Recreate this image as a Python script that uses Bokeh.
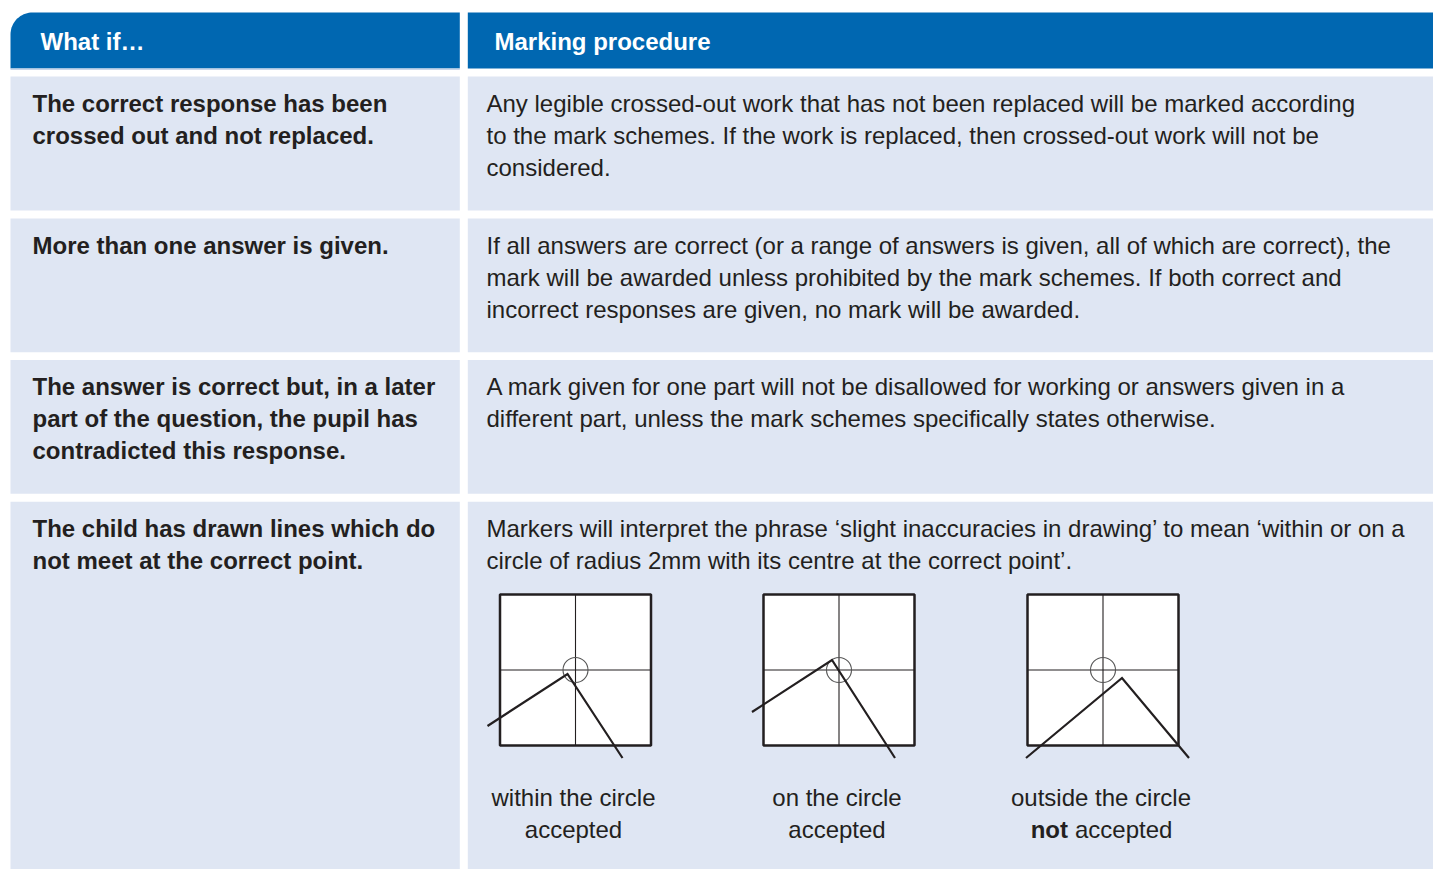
import numpy as np
from bokeh.plotting import figure
from bokeh.models import Range1d
from bokeh.core.properties import value
from bokeh.embed import file_html
from bokeh.resources import INLINE

# ---------------- data ----------------
headers = ["What if…", "Marking procedure"]

what_if = [
    ["The correct response has been", "crossed out and not replaced."],
    ["More than one answer is given."],
    ["The answer is correct but, in a later", "part of the question, the pupil has",
     "contradicted this response."],
    ["The child has drawn lines which do", "not meet at the correct point."],
]

procedure = [
    ["Any legible crossed-out work that has not been replaced will be marked according",
     "to the mark schemes. If the work is replaced, then crossed-out work will not be",
     "considered."],
    ["If all answers are correct (or a range of answers is given, all of which are correct), the",
     "mark will be awarded unless prohibited by the mark schemes. If both correct and",
     "incorrect responses are given, no mark will be awarded."],
    ["A mark given for one part will not be disallowed for working or answers given in a",
     "different part, unless the mark schemes specifically states otherwise."],
    ["Markers will interpret the phrase ‘slight inaccuracies in drawing’ to mean ‘within or on a",
     "circle of radius 2mm with its centre at the correct point’."],
]

# diagram cases: caption lines, drawn chevron (relative to box centre, px)
case_line1 = ["within the circle", "on the circle", "outside the circle"]
case_line2_bold = ["", "", "not"]
case_line2 = ["accepted", "accepted", "accepted"]
chevron_x = [[-88, -8, 47], [-87, -7, 56], [-77, 19, 86]]
chevron_y = [[56, 4, 88], [42, -10, 88], [88, 8, 88]]

# ---------------- layout ----------------
W, H = 1433, 869
p = figure(width=W, height=H, x_range=Range1d(0, W), y_range=Range1d(H, 0),
           output_backend="svg", toolbar_location=None, x_axis_type=None, y_axis_type=None,
           min_border=0, outline_line_color=None, background_fill_color="white",
           border_fill_color="white")
p.grid.visible = False

BLUE = "#0067B1"
ROWBG = "#DFE6F3"
TXT = "#231F20"
FONT = value("Liberation Sans")
FS = "24px"
FSB = "24px"
DY = -8.5  # baseline correction

colL = (10, 459.3)
colR = (467.3, 1445)
row_tops = [76, 218, 359.5, 501.3]
row_bots = [210, 351.7, 493.3, 880]

# header: left with rounded top-left corner
r = 22
t = np.linspace(np.pi, 1.5 * np.pi, 20)
hx = list(colL[0] + r + r * np.cos(t)) + [colL[1], colL[1], colL[0]]
hy = list(12 + r + r * np.sin(t)) + [12, 68, 68]
p.patch(hx, hy, fill_color=BLUE, line_color=None)
p.quad(left=[colR[0]], right=[colR[1]], top=[12], bottom=[68], fill_color=BLUE, line_color=None)
# thin light rule below header
p.quad(left=[colL[0], colR[0]], right=[colL[1], colR[1]], top=[68], bottom=[69.6],
       fill_color="#C8D5EA", line_color=None)

p.text(x=[40, 494], y=[49 + DY, 49 + DY], text=headers, text_color="white", text_font=FONT,
       text_font_size=FSB, text_font_style="bold", text_baseline="alphabetic")

# rows
for i in range(4):
    p.quad(left=[colL[0], colR[0]], right=[colL[1], colR[1]], top=[row_tops[i]] * 2,
           bottom=[row_bots[i]] * 2, fill_color=ROWBG, line_color=None)
    base = row_tops[i] + 35.3 + DY
    lx, ly, lt = [], [], []
    for k, s in enumerate(what_if[i]):
        lx.append(32); ly.append(base + 32 * k); lt.append(s)
    p.text(x=lx, y=ly, text=lt, text_color=TXT, text_font=FONT, text_font_size=FSB,
           text_font_style="bold", text_baseline="alphabetic")
    rx, ry, rt = [], [], []
    for k, s in enumerate(procedure[i]):
        rx.append(486); ry.append(base + 32 * k); rt.append(s)
    p.text(x=rx, y=ry, text=rt, text_color=TXT, text_font=FONT, text_font_size=FS,
           text_baseline="alphabetic")

# diagrams
centres_x = [575, 838.5, 1102.5]
cy = 669.5
half = 75.5
for j, cx in enumerate(centres_x):
    p.quad(left=[cx - half], right=[cx + half], top=[cy - half], bottom=[cy + half],
           fill_color="white", line_color=TXT, line_width=2.5)
    p.segment(x0=[cx, cx - half], y0=[cy - half, cy], x1=[cx, cx + half], y1=[cy + half, cy],
              line_color=TXT, line_width=1.1)
    p.scatter(x=[cx], y=[cy], size=25, marker="circle", fill_color=None,
              line_color="#555555", line_width=1.1)
    p.line(x=[cx + v for v in chevron_x[j]], y=[cy + v for v in chevron_y[j]],
           line_color=TXT, line_width=2.2, line_join="miter")
    p.text(x=[cx - 2], y=[805.5 + DY], text=[case_line1[j]], text_color=TXT, text_font=FONT,
           text_font_size=FS, text_align="center", text_baseline="alphabetic")
    if case_line2_bold[j]:
        p.text(x=[cx - 35], y=[837.5 + DY], text=[case_line2_bold[j]], text_color=TXT,
               text_font=FONT, text_font_size=FSB, text_font_style="bold",
               text_align="right", text_baseline="alphabetic")
        p.text(x=[cx - 28], y=[837.5 + DY], text=[case_line2[j]], text_color=TXT,
               text_font=FONT, text_font_size=FS, text_align="left",
               text_baseline="alphabetic")
    else:
        p.text(x=[cx - 2], y=[837.5 + DY], text=[case_line2[j]], text_color=TXT, text_font=FONT,
               text_font_size=FS, text_align="center", text_baseline="alphabetic")

open("out.html", "w").write(file_html(p, INLINE))
